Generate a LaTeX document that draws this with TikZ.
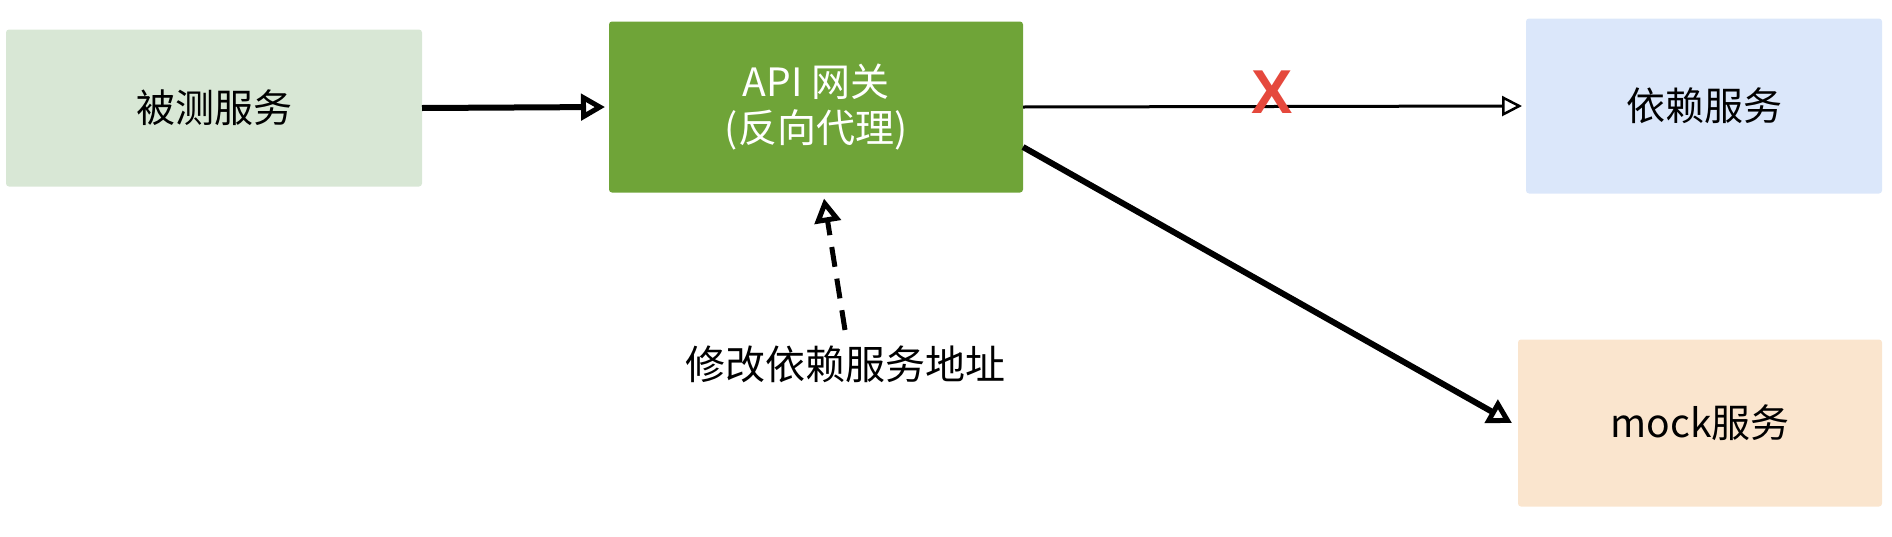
\documentclass[tikz,border=0pt]{standalone}
\usepackage{fontspec}
\setmainfont{Noto Sans CJK SC}
\newfontfamily\crossfont{Liberation Sans}
\usepackage{tikz}
\usetikzlibrary{arrows.meta}

\definecolor{testgreen}{HTML}{D8E7D5}
\definecolor{gwgreen}{HTML}{6FA438}
\definecolor{depblue}{HTML}{DBE7FA}
\definecolor{mockorange}{HTML}{FAE5CE}
\definecolor{crossred}{HTML}{E5483C}

\begin{document}
\begin{tikzpicture}[x=1pt,y=-1pt]
%\tikzstyle{box} = [draw]
\tikzstyle{box} = [rectangle, rounded corners=3pt, inner sep=0pt, outer sep=0pt, align=center, font=\fontsize{39}{46}\selectfont]
\tikzstyle{flow} = [line width=6pt, -{Triangle[open,length=24pt,width=26pt,line width=5pt]}]
\tikzstyle{cut} = [line width=3pt, -{Triangle[open,length=20pt,width=20pt,line width=2.5pt]}]
\useasboundingbox (0,0) rectangle (1892,536);

\node[box, fill=testgreen, minimum width=416pt, minimum height=157pt] (svc) at (214,108) {被测服务};
\node[box, fill=gwgreen, text=white, minimum width=414pt, minimum height=171pt] (gw) at (816,107) {API 网关\\(反向代理)};
\node[box, fill=depblue, minimum width=356pt, minimum height=175pt] (dep) at (1704,106) {依赖服务};
\node[box, fill=mockorange, minimum width=364pt, minimum height=167pt] (mock) at (1700,423) {mock服务};
\node[font=\fontsize{40}{46}\selectfont] (addr) at (845,364) {修改依赖服务地址};

\draw[flow] (svc.east) -- ([xshift=-4pt]gw.west);
\draw[cut] (gw.east) -- ([xshift=-4pt]dep.west)
    node[midway, yshift=14pt, text=crossred, font=\crossfont\bfseries\fontsize{62}{62}\selectfont] (cross) {X};
\draw[flow] ([yshift=-40pt]gw.east) -- ([xshift=-6pt]mock.west);
%\draw[flow, dashed] (addr.north) -- (gw.south);
\draw[flow, line width=5pt, dash pattern=on 20pt off 12pt] ([yshift=12pt]addr.north) -- ([shift={(8pt,-6pt)}]gw.south);
\end{tikzpicture}
\end{document}
